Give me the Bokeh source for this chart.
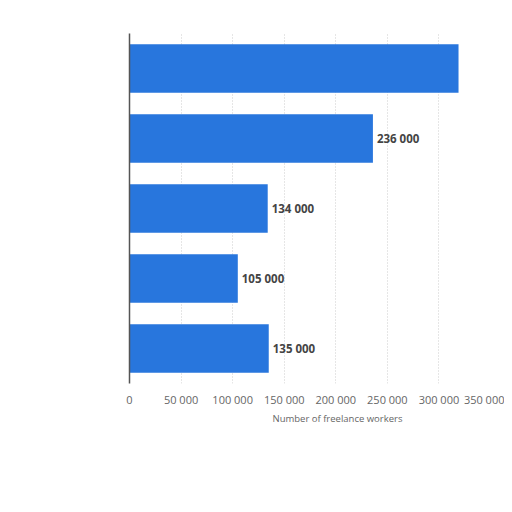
from bokeh.plotting import figure
from bokeh.models import ColumnDataSource, FactorRange, Range1d, CustomJSTickFormatter, LabelSet, Title
from bokeh.embed import file_html
from bokeh.resources import INLINE
from bokeh.core.properties import value

categories = ["Category 1", "Category 2", "Category 3", "Category 4", "Category 5"]
workers = [319000, 236000, 134000, 105000, 135000]
labels = ["", "236 000", "134 000", "105 000", "135 000"]
x_ticks = [0, 50000, 100000, 150000, 200000, 250000, 300000, 350000]
x_title = "Number of freelance workers"

src = ColumnDataSource(dict(cat=categories, val=workers, lab=labels))

p = figure(width=504, height=450, output_backend="svg", toolbar_location=None,
           y_range=FactorRange(*reversed(categories), range_padding=0),
           x_range=Range1d(0, 350000),
           min_border_left=129, min_border_right=14, min_border_top=33, min_border_bottom=67)
p.outline_line_color = None
p.background_fill_color = "white"
p.border_fill_color = "white"

p.hbar(y="cat", right="val", height=0.69, left=0, source=src,
       fill_color="#2876DD", line_color=None)

lbl = LabelSet(x="val", y="cat", text="lab", source=src, x_offset=4,
               text_baseline="middle", text_font=value("Open Sans"),
               text_font_size="11.5px", text_font_style="bold", text_color="#444444")
p.add_layout(lbl)

t = Title(text=x_title, align="left", offset=143, text_font="Open Sans",
          text_font_size="9.5px", text_font_style="normal", text_color="#666666",
          standoff=0)
p.add_layout(t, "below")

p.xaxis.ticker = x_ticks
p.xaxis.formatter = CustomJSTickFormatter(code="""
return tick.toString().replace(/\\B(?=(\\d{3})+(?!\\d))/g, " ");
""")
p.xaxis.axis_line_color = None
p.xaxis.major_tick_line_color = None
p.xaxis.minor_tick_line_color = None
p.xaxis.major_label_text_font = "Open Sans"
p.xaxis.major_label_text_font_size = "11px"
p.xaxis.major_label_text_color = "#666666"
p.xaxis.major_label_standoff = 2

p.yaxis.axis_line_color = "#555555"
p.yaxis.axis_line_width = 1.5
p.yaxis.major_tick_line_color = None
p.yaxis.minor_tick_line_color = None
p.yaxis.major_label_text_font_size = "0px"
p.yaxis.major_label_text_color = None

p.ygrid.grid_line_color = None
p.xgrid.grid_line_color = "#cccccc"
p.xgrid.grid_line_dash = "1 2"

open("out.html", "w").write(file_html(p, INLINE))
